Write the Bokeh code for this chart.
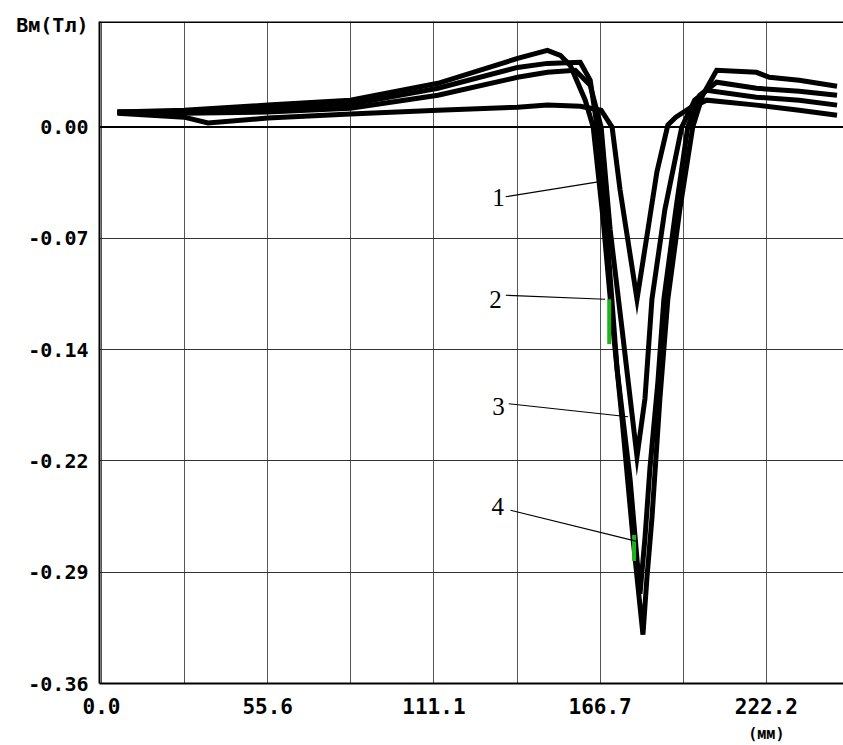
from bokeh.plotting import figure
from bokeh.models import FixedTicker, Span, Range1d, LinearAxis
from bokeh.embed import file_html
from bokeh.resources import INLINE
from bokeh.core.properties import value

# ---- data (x in mm, Bm in T) ----
x1 = [5.32, 27.61, 35.60, 55.56, 83.17, 112.44, 139.06, 149.04, 160.01, 167.00, 170.66, 173.32,
      178.98, 182.63, 185.63, 189.29, 191.95, 196.61, 202.26, 218.90, 233.20, 245.84]
y1 = [0.0090, 0.0064, 0.0026, 0.0058, 0.0084, 0.0109, 0.0129, 0.0142, 0.0135, 0.0109, 0.0, -0.0406,
      -0.1114, -0.0663, -0.0290, 0.0013, 0.0064, 0.0122, 0.0174, 0.0142, 0.0109, 0.0077]

x2 = [5.32, 27.61, 55.56, 83.17, 112.44, 139.06, 149.04, 158.35, 163.34, 167.00, 170.00, 173.98,
      178.98, 181.64, 183.97, 188.29, 193.95, 198.27, 202.26, 218.90, 233.20, 245.84]
y2 = [0.0097, 0.0090, 0.0097, 0.0122, 0.0206, 0.0322, 0.0354, 0.0367, 0.0270, 0.0, -0.0663, -0.1307,
      -0.2132, -0.1758, -0.1114, -0.0535, 0.0, 0.0174, 0.0238, 0.0193, 0.0174, 0.0142]

x3 = [5.32, 27.61, 55.56, 83.17, 112.44, 139.06, 149.04, 160.01, 163.34, 165.67, 168.33, 172.32,
      176.65, 179.98, 181.64, 183.30, 185.96, 187.96, 191.95, 195.94, 199.94, 205.59, 218.90, 233.20, 245.84]
y3 = [0.0097, 0.0103, 0.0122, 0.0148, 0.0251, 0.0386, 0.0412, 0.0419, 0.0303, 0.0, -0.0535, -0.1565,
      -0.2273, -0.3020, -0.2660, -0.2209, -0.1649, -0.1114, -0.0535, 0.0, 0.0206, 0.0290, 0.0251, 0.0232, 0.0206]

x4 = [5.32, 27.61, 55.56, 83.17, 112.44, 139.06, 149.04, 153.36, 156.69, 161.68, 164.34, 167.67,
      170.66, 173.98, 177.65, 180.97, 182.30, 183.97, 186.63, 189.29, 193.28, 197.61, 200.93, 205.59,
      218.90, 223.22, 233.20, 245.84]
y4 = [0.0097, 0.0109, 0.0142, 0.0174, 0.0283, 0.0444, 0.0496, 0.0464, 0.0399, 0.0174, 0.0, -0.0599,
      -0.1243, -0.1887, -0.2660, -0.3284, -0.2917, -0.2531, -0.1758, -0.1114, -0.0535, 0.0, 0.0206, 0.0367,
      0.0354, 0.0322, 0.0303, 0.0264]

curves_x = [x1, x2, x3, x4]
curves_y = [y1, y2, y3, y4]

# curve number annotations (text position and leader line end points)
ann_text = ["1", "2", "3", "4"]
ann_tx = [132.7, 131.7, 132.7, 132.4]
ann_ty = [-0.0457, -0.1114, -0.1810, -0.2454]
lead_x0 = [135.1, 135.1, 136.1, 136.7]
lead_y0 = [-0.0451, -0.1088, -0.1790, -0.2479]
lead_x1 = [166.0, 168.3, 176.0, 178.6]
lead_y1 = [-0.0354, -0.1114, -0.1874, -0.2679]

# green scan marks
mark_x = [169.7, 178.0]
mark_y0 = [-0.1114, -0.2640]
mark_y1 = [-0.1404, -0.2808]

x_ticks = [0.0, 55.56, 111.11, 166.67, 222.22]
x_tick_labels = ["0.0", "55.6", "111.1", "166.7", "222.2"]
x_minor = [27.78, 83.33, 138.89, 194.44, 250.0]
x_unit = "(мм)"
y_ticks = [0.0, -0.072, -0.144, -0.216, -0.288, -0.36]
y_tick_labels = ["0.00", "-0.07", "-0.14", "-0.22", "-0.29", "-0.36"]
y_unit = "Bм(Тл)"
y_unit_pos = 0.0663

FONT = "DejaVu Sans Mono"

p = figure(width=843, height=745, output_backend="svg", toolbar_location=None,
           x_range=Range1d(-0.67, 248.0), y_range=Range1d(-0.36, 0.0683),
           min_border_left=99, min_border_right=0, min_border_top=21, min_border_bottom=59)
p.outline_line_color = None
p.background_fill_color = "white"

xax = p.xaxis[0]
yax = p.yaxis[0]
xax.ticker = FixedTicker(ticks=x_ticks, minor_ticks=x_minor)
xax.major_label_overrides = dict(zip(x_ticks, x_tick_labels))
yax.ticker = FixedTicker(ticks=y_ticks + [y_unit_pos], minor_ticks=[])
yax.major_label_overrides = dict(zip(y_ticks + [y_unit_pos], y_tick_labels + [y_unit]))
p.ygrid.ticker = FixedTicker(ticks=y_ticks, minor_ticks=[])
for ax in (xax, yax):
    ax.major_tick_line_color = None
    ax.minor_tick_line_color = None
    ax.axis_line_color = "black"
    ax.axis_line_width = 2
    ax.major_label_text_font = FONT
    ax.major_label_text_font_style = "bold"
    ax.major_label_text_color = "black"
xax.major_label_text_font_size = "21px"
yax.major_label_text_font_size = "20px"
xax.major_label_standoff = 8
yax.major_label_standoff = 5

unit_ax = LinearAxis(ticker=FixedTicker(ticks=[222.22], minor_ticks=[]),
                     major_label_overrides={222.22: x_unit},
                     axis_line_color=None, major_tick_line_color=None, minor_tick_line_color=None,
                     major_label_text_font=FONT, major_label_text_font_style="bold",
                     major_label_text_font_size="15px", major_label_text_color="black",
                     major_label_standoff=2)
p.add_layout(unit_ax, "below")

p.xgrid.grid_line_color = "#555555"
p.xgrid.grid_line_width = 1
p.xgrid.minor_grid_line_color = "#555555"
p.xgrid.minor_grid_line_width = 1
p.ygrid.grid_line_color = "#333333"
p.ygrid.grid_line_width = 1

p.add_layout(Span(location=0.0, dimension="width", line_color="black", line_width=2))
p.add_layout(Span(location=0.0683, dimension="width", line_color="black", line_width=3))

for xs, ys in zip(curves_x, curves_y):
    p.line(xs, ys, line_color="black", line_width=5, line_join="miter")

p.segment(x0=mark_x, y0=mark_y0, x1=mark_x, y1=mark_y1, line_color="#1db31d", line_width=4)

p.segment(x0=lead_x0, y0=lead_y0, x1=lead_x1, y1=lead_y1, line_color="black", line_width=1.2)
p.text(x=ann_tx, y=ann_ty, text=ann_text, text_font=value("Liberation Serif"),
       text_font_size="25px", text_align="center", text_baseline="middle", text_color="black")

open("out.html", "w").write(file_html(p, INLINE))
